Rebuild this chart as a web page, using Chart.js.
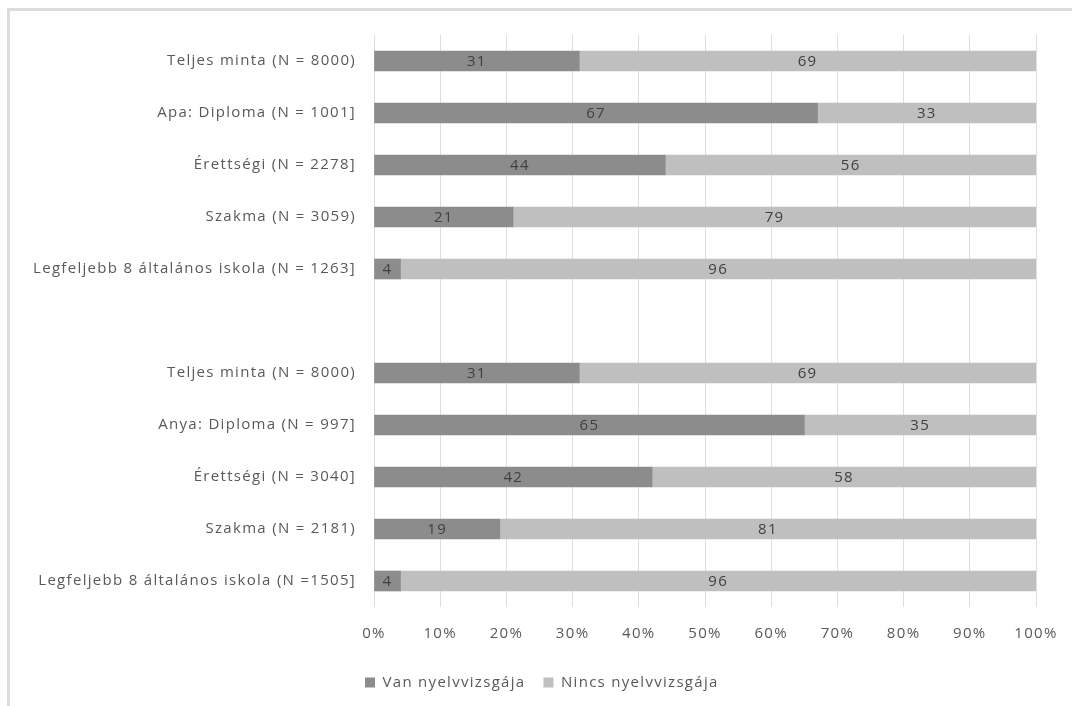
<!DOCTYPE html>
<html>
<head>
<meta charset="utf-8">
<script src="https://cdn.jsdelivr.net/npm/chart.js@4"></script>
<style>
  html, body { margin: 0; padding: 0; background: #fff; }
  #frame { position: absolute; left: 7px; top: 8px; width: 1080px; height: 720px;
           border-top: 3px solid #dcdcdc; border-left: 3px solid #dcdcdc; }
  #wrap { position: absolute; left: 0; top: 0; width: 1072px; height: 706px; }
</style>
</head>
<body>
<div id="frame"></div>
<div id="wrap"><canvas id="chart" width="1072" height="706"></canvas></div>
<script>
// categories (empty entry = gap between the two groups)
const categories = [
    'Teljes minta (N = 8000)',
    'Apa: Diploma (N = 1001]',
    'Érettségi (N = 2278]',
    'Szakma (N = 3059)',
    'Legfeljebb 8 általános iskola (N = 1263]',
    '',
    'Teljes minta (N = 8000)',
    'Anya: Diploma (N = 997]',
    'Érettségi (N = 3040]',
    'Szakma (N = 2181)',
    'Legfeljebb 8 általános iskola (N =1505]'
];
const vanValues = [31, 67, 44, 21, 4, null, 31, 65, 42, 19, 4];
const nincsValues = [69, 33, 56, 79, 96, null, 69, 35, 58, 81, 96];
const xTicks = [0, 10, 20, 30, 40, 50, 60, 70, 80, 90, 100];

const FONT = '"Open Sans", sans-serif';
const SPACING = '1.3px';

// the original text is set quite wide, so spread the letters a bit
const wideText = {
    id: 'wideText',
    beforeUpdate(chart) { chart.ctx.letterSpacing = SPACING; },
    beforeDraw(chart) { chart.ctx.letterSpacing = SPACING; }
};

// write the value in the middle of each bar segment
const barLabels = {
    id: 'barLabels',
    afterDatasetsDraw(chart) {
        const ctx = chart.ctx;
        ctx.save();
        ctx.font = '15px ' + FONT;
        ctx.fillStyle = '#404040';
        ctx.textAlign = 'center';
        ctx.textBaseline = 'middle';
        chart.data.datasets.forEach((ds, i) => {
            chart.getDatasetMeta(i).data.forEach((bar, j) => {
                const v = ds.data[j];
                if (v === null) return;
                const mid = (bar.x + bar.base) / 2;
                ctx.fillText(String(v), mid, bar.y + 1);
            });
        });
        ctx.restore();
    }
};

// shift the legend so it starts under the y axis labels, as in the original
const legendShift = {
    id: 'legendShift',
    afterLayout(chart) {
        const lg = chart.legend;
        const w = lg.right - lg.left;
        lg.left = 347;
        lg.right = 347 + w;
        lg.top -= 4;
        lg.bottom -= 4;
    }
};

new Chart(document.getElementById('chart').getContext('2d'), {
    type: 'bar',
    data: {
        labels: categories,
        datasets: [
            {
                label: 'Van nyelvvizsgája',
                data: vanValues,
                backgroundColor: '#8c8c8c',
                barThickness: 20
            },
            {
                label: 'Nincs nyelvvizsgája',
                data: nincsValues,
                backgroundColor: '#bfbfbf',
                barThickness: 20
            }
        ]
    },
    options: {
        indexAxis: 'y',
        responsive: false,
        animation: false,
        layout: { padding: { top: 35, right: 36, left: 0, bottom: 2 } },
        plugins: {
            tooltip: { enabled: false },
            legend: {
                position: 'bottom',
                align: 'start',
                labels: {
                    boxWidth: 10,
                    boxHeight: 10,
                    padding: 18,
                    color: '#595959',
                    font: { family: FONT, size: 15 }
                }
            }
        },
        scales: {
            x: {
                stacked: true,
                min: 0,
                max: 100,
                afterBuildTicks(scale) {
                    scale.ticks = xTicks.map(v => ({ value: v }));
                },
                afterFit(scale) {
                    scale.height = 54;
                    scale.paddingRight = 0;
                    scale.paddingLeft = 0;
                },
                grid: { color: '#dedede', drawTicks: false },
                border: { display: false },
                ticks: {
                    padding: 18,
                    color: '#595959',
                    font: { family: FONT, size: 15 },
                    callback: v => v + '%'
                }
            },
            y: {
                stacked: true,
                afterFit(scale) { scale.width = 374; },
                grid: { display: false, drawTicks: false },
                border: { display: false },
                ticks: {
                    padding: 18,
                    autoSkip: false,
                    color: '#595959',
                    font: { family: FONT, size: 15 }
                }
            }
        }
    },
    plugins: [wideText, barLabels, legendShift]
});
</script>
</body>
</html>
